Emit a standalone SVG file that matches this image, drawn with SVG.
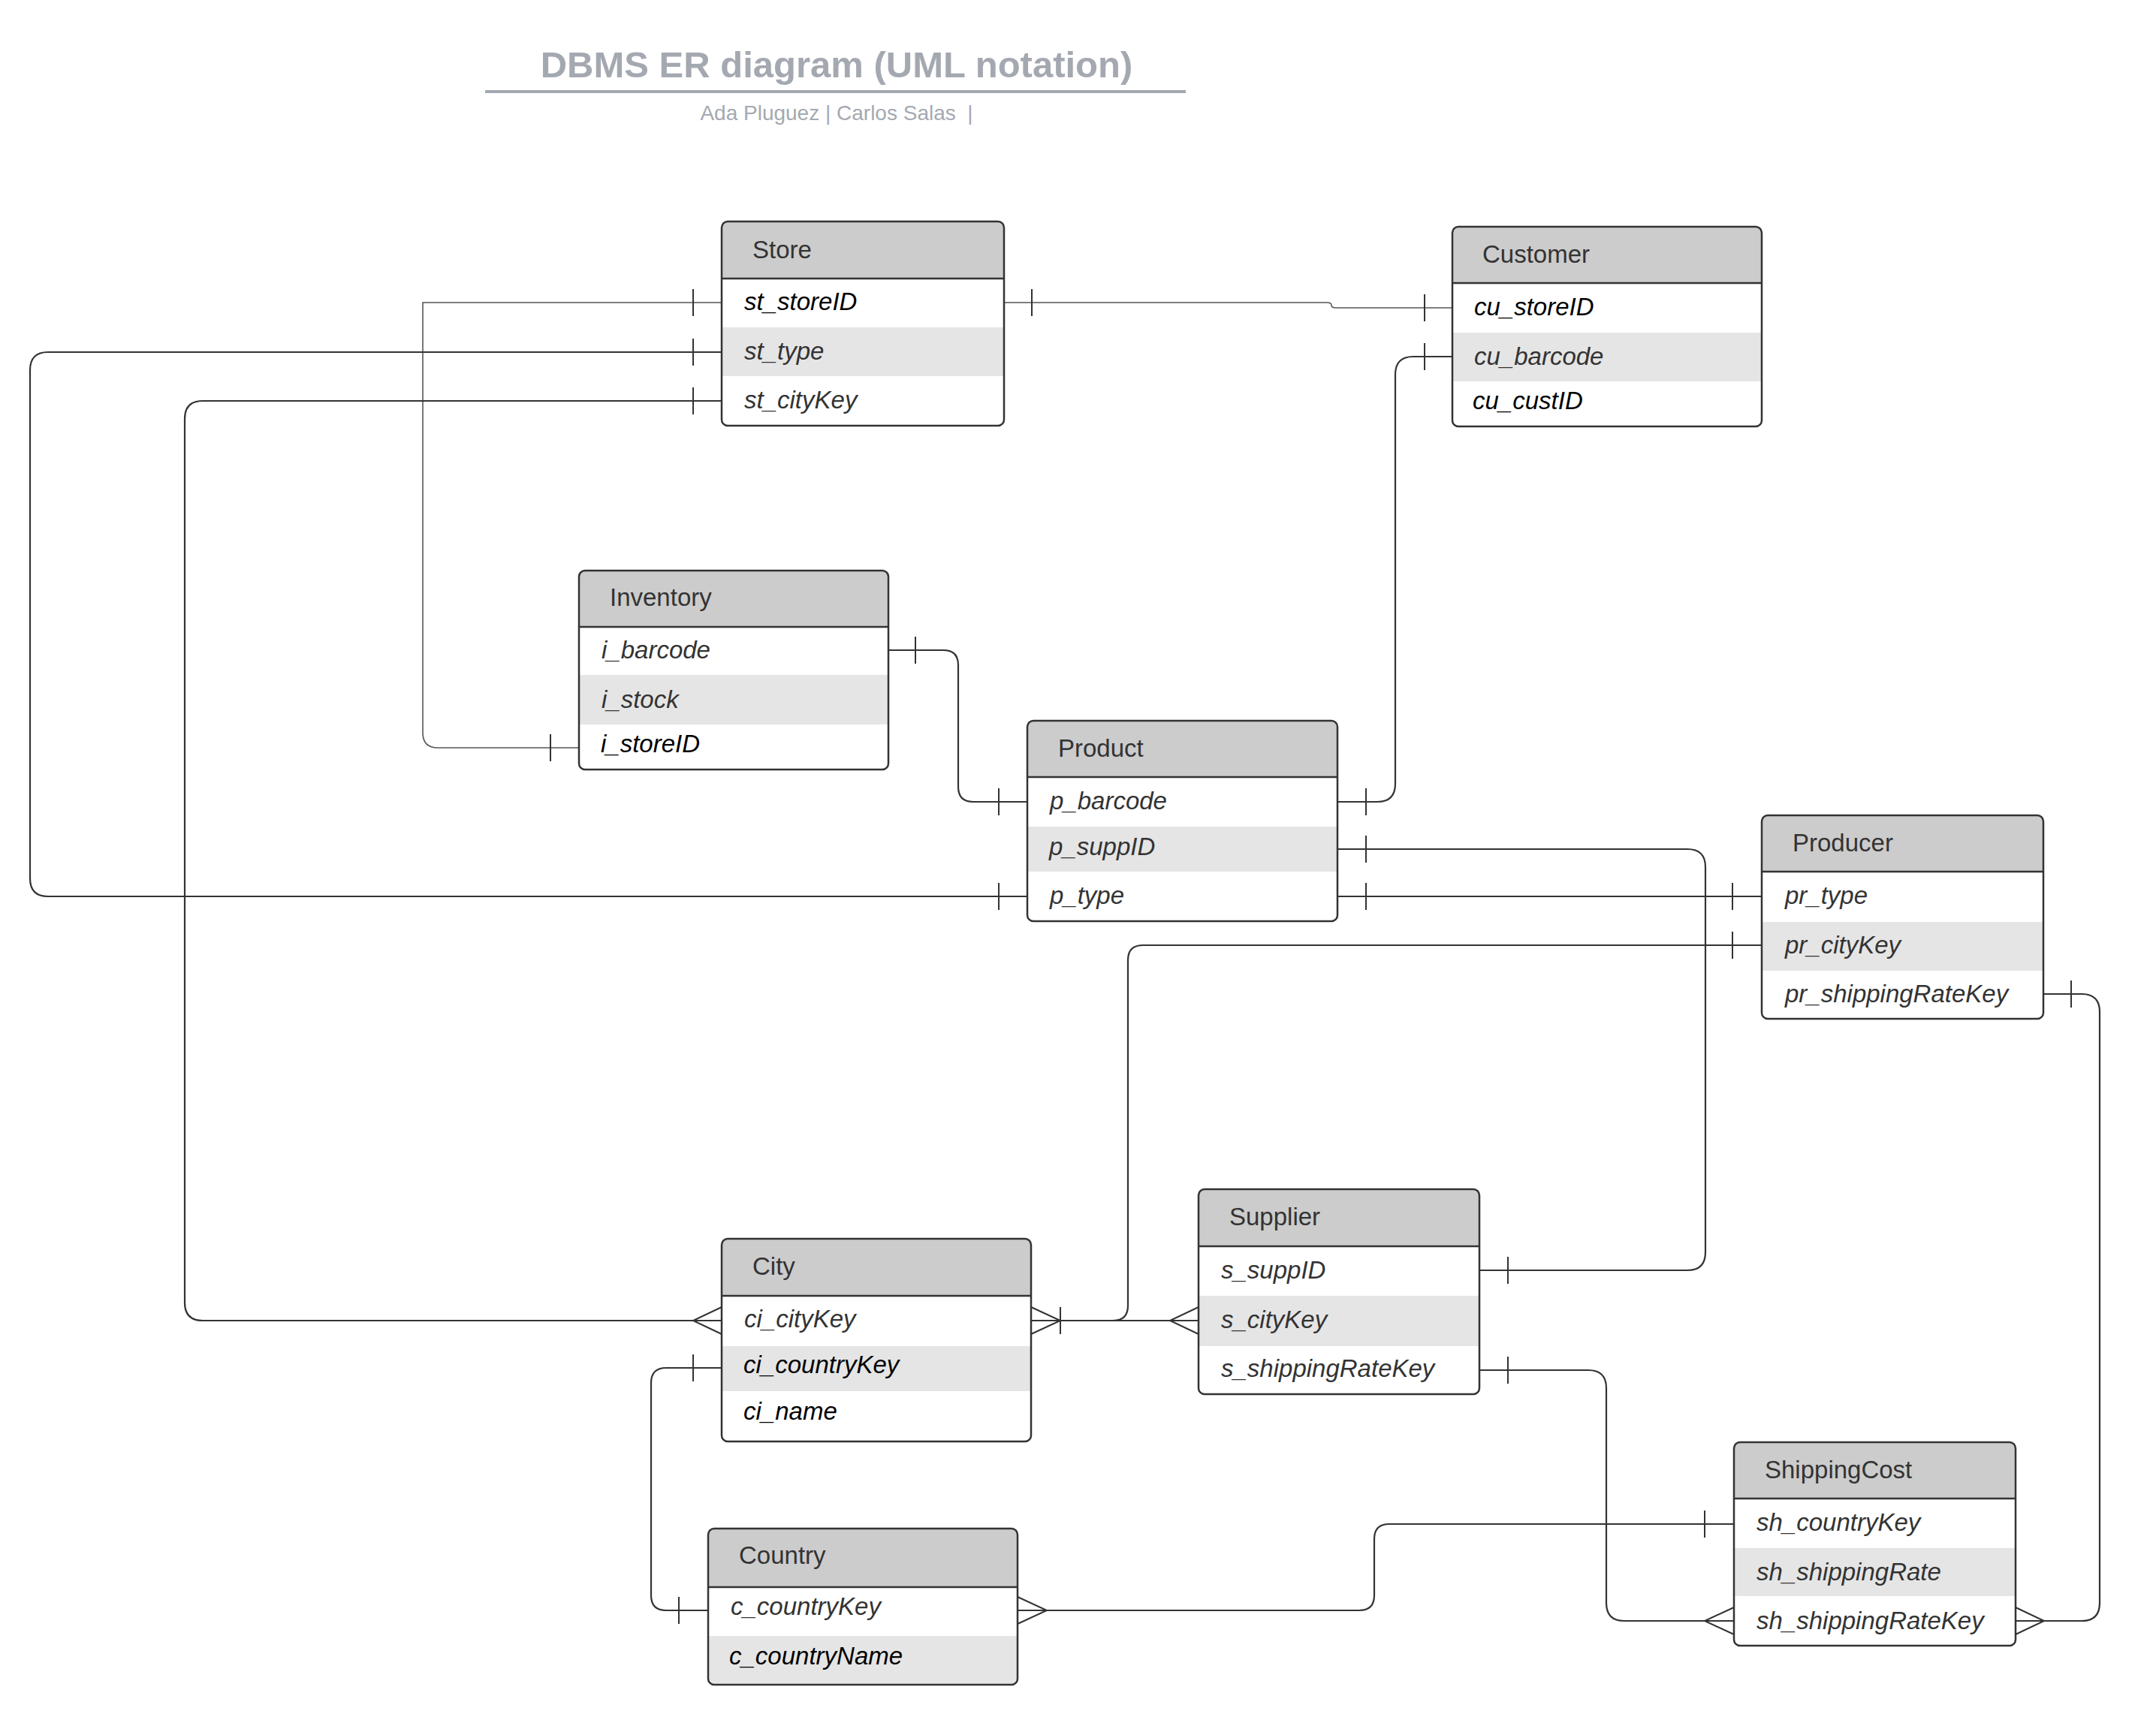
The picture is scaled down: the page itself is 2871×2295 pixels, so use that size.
<svg xmlns="http://www.w3.org/2000/svg" width="2871" height="2295" viewBox="0 0 2871 2295">
<style>
.bg{fill:#ffffff}
.body{fill:#ffffff;stroke:none}
.hdr{fill:#cccccc}
.alt{fill:#e5e5e5}
.frame{fill:none;stroke:#333333;stroke-width:2.5}
.sep{stroke:#333333;stroke-width:2.5}
.ht{font-family:"Liberation Sans",Arial,sans-serif;font-size:33px;fill:#333333}
.at{font-family:"Liberation Sans",Arial,sans-serif;font-size:33px;font-style:italic;fill:#333333}
.k{fill:#000000}
.conn{fill:none;stroke:#333333;stroke-width:2.2}
.thin{fill:none;stroke:#555555;stroke-width:1.6}
.tick{stroke:#333333;stroke-width:2}
.crow{fill:none;stroke:#333333;stroke-width:2}
.title{font-family:"Liberation Sans",Arial,sans-serif;font-size:49px;font-weight:bold;fill:#a4a9b1}
.sub{font-family:"Liberation Sans",Arial,sans-serif;font-size:28px;fill:#a4a9b1}
</style>
<rect class="bg" x="0" y="0" width="2871" height="2295"/>

<g id="title">
<text class="title" x="1114" y="103" text-anchor="middle">DBMS ER diagram (UML notation)</text>
<line x1="646" y1="122" x2="1579" y2="122" stroke="#a4a9b1" stroke-width="4"/>
<text class="sub" x="1114" y="160" text-anchor="middle" xml:space="preserve">Ada Pluguez | Carlos Salas  |</text>
</g>

<g id="connectors">
<!-- Store.st_storeID - Inventory.i_storeID -->
<path class="thin" d="M961 403 H563 V976 Q563 996 583 996 H771"/>
<line class="tick" x1="923" y1="385" x2="923" y2="421"/>
<line class="tick" x1="733" y1="978" x2="733" y2="1014"/>
<!-- Store.st_type - Product.p_type -->
<path class="conn" d="M961 469 H64 Q40 469 40 493 V1170 Q40 1194 64 1194 H1368"/>
<line class="tick" x1="923" y1="451" x2="923" y2="487"/>
<line class="tick" x1="1330" y1="1176" x2="1330" y2="1212"/>
<!-- Store.st_cityKey - City.ci_cityKey -->
<path class="conn" d="M961 534 H270 Q246 534 246 558 V1735 Q246 1759 270 1759 H961"/>
<line class="tick" x1="923" y1="516" x2="923" y2="552"/>
<polyline class="crow" points="961,1741 923,1759 961,1777"/>
<!-- Store.st_storeID - Customer.cu_storeID -->
<path class="thin" d="M1337 403 H1767 Q1773 403 1773 406.5 Q1773 410 1779 410 H1934"/>
<line class="tick" x1="1374" y1="385" x2="1374" y2="421"/>
<line class="tick" x1="1897" y1="392" x2="1897" y2="428"/>
<!-- Customer.cu_barcode - Product.p_barcode -->
<path class="conn" d="M1934 475 H1882 Q1858 475 1858 499 V1044 Q1858 1068 1834 1068 H1781"/>
<line class="tick" x1="1897" y1="457" x2="1897" y2="493"/>
<line class="tick" x1="1819" y1="1050" x2="1819" y2="1086"/>
<!-- Inventory.i_barcode - Product.p_barcode -->
<path class="conn" d="M1183 866 H1256 Q1276 866 1276 886 V1048 Q1276 1068 1296 1068 H1368"/>
<line class="tick" x1="1219" y1="848" x2="1219" y2="884"/>
<line class="tick" x1="1330" y1="1050" x2="1330" y2="1086"/>
<!-- Product.p_suppID - Supplier.s_suppID -->
<path class="conn" d="M1781 1131 H2247 Q2271 1131 2271 1155 V1668 Q2271 1692 2247 1692 H1970"/>
<line class="tick" x1="1819" y1="1113" x2="1819" y2="1149"/>
<line class="tick" x1="2008" y1="1674" x2="2008" y2="1710"/>
<!-- Product.p_type - Producer.pr_type -->
<path class="conn" d="M1781 1194 H2346"/>
<line class="tick" x1="1819" y1="1176" x2="1819" y2="1212"/>
<line class="tick" x1="2307" y1="1176" x2="2307" y2="1212"/>
<!-- Producer.pr_cityKey - City.ci_cityKey -->
<path class="conn" d="M2346 1259 H1522 Q1502 1259 1502 1279 V1739 Q1502 1759 1482 1759 H1373"/>
<line class="tick" x1="2307" y1="1241" x2="2307" y2="1277"/>
<polyline class="crow" points="1373,1741 1412,1759 1373,1777"/>
<line class="tick" x1="1412" y1="1741" x2="1412" y2="1777"/>
<!-- Supplier.s_cityKey - City.ci_cityKey -->
<path class="conn" d="M1596 1759 H1373"/>
<polyline class="crow" points="1596,1741 1558,1759 1596,1777"/>
<!-- City.ci_countryKey - Country.c_countryKey -->
<path class="conn" d="M961 1822 H887 Q867 1822 867 1842 V2125 Q867 2145 887 2145 H943"/>
<line class="tick" x1="923" y1="1804" x2="923" y2="1840"/>
<line class="tick" x1="904" y1="2127" x2="904" y2="2163"/>
<!-- Country.c_countryKey - ShippingCost.sh_countryKey -->
<path class="conn" d="M1355 2145 H1810 Q1830 2145 1830 2125 V2050 Q1830 2030 1850 2030 H2309"/>
<polyline class="crow" points="1355,2127 1394,2145 1355,2163"/>
<line class="tick" x1="2270" y1="2012" x2="2270" y2="2048"/>
<!-- Supplier.s_shippingRateKey - ShippingCost.sh_shippingRateKey -->
<path class="conn" d="M1970 1825 H2115 Q2139 1825 2139 1849 V2135 Q2139 2159 2163 2159 H2309"/>
<line class="tick" x1="2008" y1="1807" x2="2008" y2="1843"/>
<polyline class="crow" points="2309,2141 2270,2159 2309,2177"/>
<!-- Producer.pr_shippingRateKey - ShippingCost.sh_shippingRateKey -->
<path class="conn" d="M2721 1324 H2772 Q2796 1324 2796 1348 V2135 Q2796 2159 2772 2159 H2684"/>
<line class="tick" x1="2758" y1="1306" x2="2758" y2="1342"/>
<polyline class="crow" points="2684,2141 2722,2159 2684,2177"/>
</g>

<g id="store">
<rect class="body" x="961" y="295" width="376" height="272" rx="8"/>
<path class="hdr" d="M961 371 V303 Q961 295 969 295 H1329 Q1337 295 1337 303 V371 Z"/>
<rect class="alt" x="961" y="436" width="376" height="65"/>
<line class="sep" x1="961" y1="371" x2="1337" y2="371"/>
<rect class="frame" x="961" y="295" width="376" height="272" rx="8"/>
<text class="ht" x="1002" y="344">Store</text>
<text class="at k" x="991" y="413">st_storeID</text>
<text class="at" x="991" y="479">st_type</text>
<text class="at" x="991" y="544">st_cityKey</text>
</g>

<g id="customer">
<rect class="body" x="1934" y="302" width="412" height="266" rx="8"/>
<path class="hdr" d="M1934 377 V310 Q1934 302 1942 302 H2338 Q2346 302 2346 310 V377 Z"/>
<rect class="alt" x="1934" y="443" width="412" height="65"/>
<line class="sep" x1="1934" y1="377" x2="2346" y2="377"/>
<rect class="frame" x="1934" y="302" width="412" height="266" rx="8"/>
<text class="ht" x="1974" y="350">Customer</text>
<text class="at k" x="1963" y="420">cu_storeID</text>
<text class="at" x="1963" y="486">cu_barcode</text>
<text class="at k" x="1961" y="545">cu_custID</text>
</g>

<g id="inventory">
<rect class="body" x="771" y="760" width="412" height="265" rx="8"/>
<path class="hdr" d="M771 835 V768 Q771 760 779 760 H1175 Q1183 760 1183 768 V835 Z"/>
<rect class="alt" x="771" y="899" width="412" height="66"/>
<line class="sep" x1="771" y1="835" x2="1183" y2="835"/>
<rect class="frame" x="771" y="760" width="412" height="265" rx="8"/>
<text class="ht" x="812" y="807">Inventory</text>
<text class="at" x="801" y="877">i_barcode</text>
<text class="at" x="801" y="943">i_stock</text>
<text class="at k" x="800" y="1002">i_storeID</text>
</g>

<g id="product">
<rect class="body" x="1368" y="960" width="413" height="267" rx="8"/>
<path class="hdr" d="M1368 1035 V968 Q1368 960 1376 960 H1773 Q1781 960 1781 968 V1035 Z"/>
<rect class="alt" x="1368" y="1101" width="413" height="60"/>
<line class="sep" x1="1368" y1="1035" x2="1781" y2="1035"/>
<rect class="frame" x="1368" y="960" width="413" height="267" rx="8"/>
<text class="ht" x="1409" y="1008">Product</text>
<text class="at" x="1398" y="1078">p_barcode</text>
<text class="at" x="1397" y="1139">p_suppID</text>
<text class="at" x="1398" y="1204">p_type</text>
</g>

<g id="producer">
<rect class="body" x="2346" y="1086" width="375" height="271" rx="8"/>
<path class="hdr" d="M2346 1161 V1094 Q2346 1086 2354 1086 H2713 Q2721 1086 2721 1094 V1161 Z"/>
<rect class="alt" x="2346" y="1228" width="375" height="65"/>
<line class="sep" x1="2346" y1="1161" x2="2721" y2="1161"/>
<rect class="frame" x="2346" y="1086" width="375" height="271" rx="8"/>
<text class="ht" x="2387" y="1134">Producer</text>
<text class="at" x="2377" y="1204">pr_type</text>
<text class="at" x="2377" y="1270">pr_cityKey</text>
<text class="at" x="2377" y="1335">pr_shippingRateKey</text>
</g>

<g id="supplier">
<rect class="body" x="1596" y="1584" width="374" height="273" rx="8"/>
<path class="hdr" d="M1596 1660 V1592 Q1596 1584 1604 1584 H1962 Q1970 1584 1970 1592 V1660 Z"/>
<rect class="alt" x="1596" y="1726" width="374" height="67"/>
<line class="sep" x1="1596" y1="1660" x2="1970" y2="1660"/>
<rect class="frame" x="1596" y="1584" width="374" height="273" rx="8"/>
<text class="ht" x="1637" y="1632">Supplier</text>
<text class="at" x="1626" y="1703">s_suppID</text>
<text class="at" x="1626" y="1769">s_cityKey</text>
<text class="at" x="1626" y="1834">s_shippingRateKey</text>
</g>

<g id="city">
<rect class="body" x="961" y="1650" width="412" height="270" rx="8"/>
<path class="hdr" d="M961 1726 V1658 Q961 1650 969 1650 H1365 Q1373 1650 1373 1658 V1726 Z"/>
<rect class="alt" x="961" y="1793" width="412" height="60"/>
<line class="sep" x1="961" y1="1726" x2="1373" y2="1726"/>
<rect class="frame" x="961" y="1650" width="412" height="270" rx="8"/>
<text class="ht" x="1002" y="1698">City</text>
<text class="at" x="991" y="1768">ci_cityKey</text>
<text class="at k" x="990" y="1829">ci_countryKey</text>
<text class="at k" x="990" y="1891">ci_name</text>
</g>

<g id="country">
<rect class="body" x="943" y="2036" width="412" height="208" rx="8"/>
<path class="hdr" d="M943 2114 V2044 Q943 2036 951 2036 H1347 Q1355 2036 1355 2044 V2114 Z"/>
<path class="alt" d="M943 2179 H1355 V2236 Q1355 2244 1347 2244 H951 Q943 2244 943 2236 Z"/>
<line class="sep" x1="943" y1="2114" x2="1355" y2="2114"/>
<rect class="frame" x="943" y="2036" width="412" height="208" rx="8"/>
<text class="ht" x="984" y="2083">Country</text>
<text class="at" x="973" y="2151">c_countryKey</text>
<text class="at k" x="971" y="2217">c_countryName</text>
</g>

<g id="shippingcost">
<rect class="body" x="2309" y="1921" width="375" height="271" rx="8"/>
<path class="hdr" d="M2309 1996 V1929 Q2309 1921 2317 1921 H2676 Q2684 1921 2684 1929 V1996 Z"/>
<rect class="alt" x="2309" y="2062" width="375" height="64"/>
<line class="sep" x1="2309" y1="1996" x2="2684" y2="1996"/>
<rect class="frame" x="2309" y="1921" width="375" height="271" rx="8"/>
<text class="ht" x="2350" y="1969">ShippingCost</text>
<text class="at" x="2339" y="2039">sh_countryKey</text>
<text class="at" x="2339" y="2105">sh_shippingRate</text>
<text class="at" x="2339" y="2170">sh_shippingRateKey</text>
</g>
</svg>
